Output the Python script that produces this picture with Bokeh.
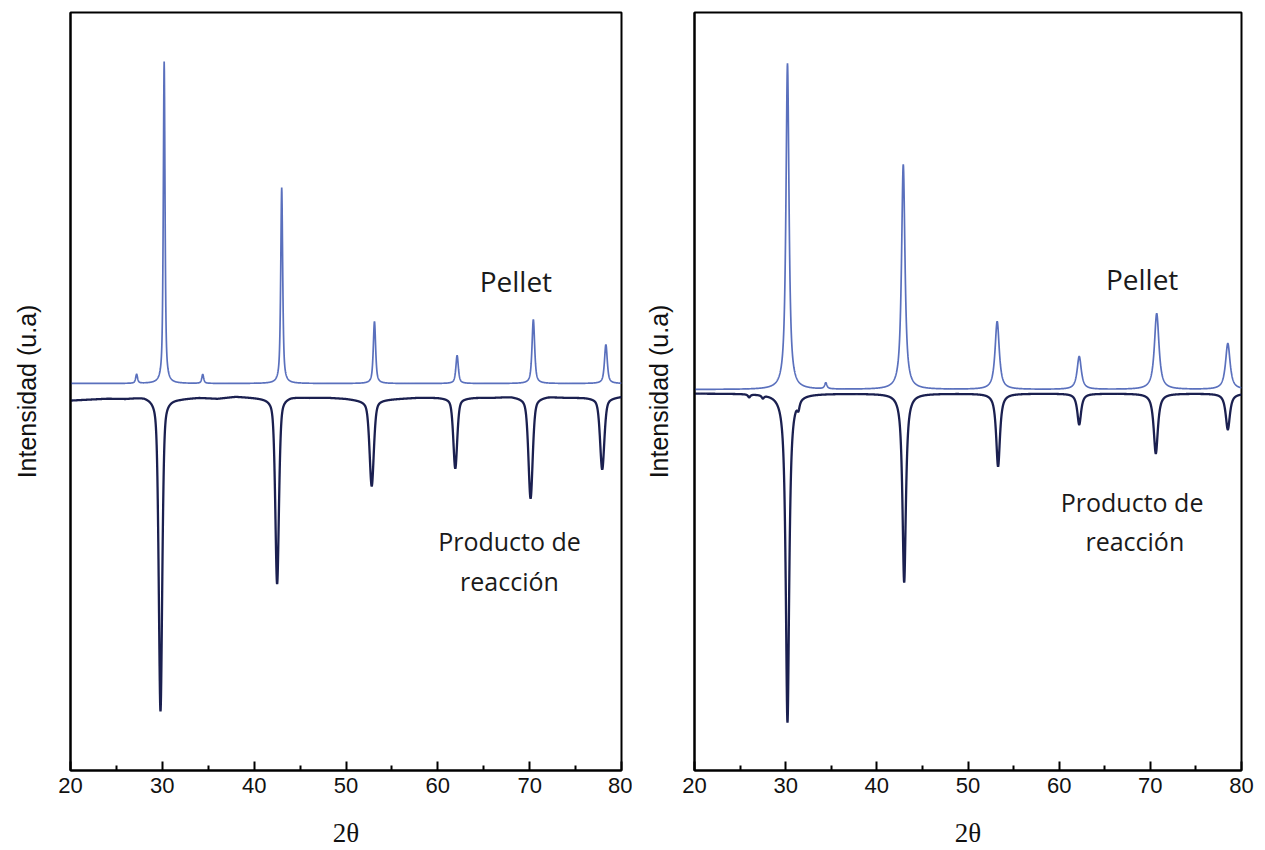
import numpy as np
from bokeh.plotting import figure
from bokeh.layouts import row
from bokeh.models import Range1d, FixedTicker, Label
from bokeh.embed import file_html
from bokeh.resources import INLINE

# ---------------- data ----------------
# 2-theta axis ticks
x_ticks = [20, 30, 40, 50, 60, 70, 80]
x_minor = [25, 35, 45, 55, 65, 75]

# Left panel – Pellet (upward peaks)
L_pel_offset = 387
L_pel_pos = [27.2, 30.2, 34.4, 43.0, 53.1, 62.1, 70.4, 78.3]
L_pel_h = [9, 322, 9, 196, 62, 28, 64, 39]
L_pel_fwhm = [0.25, 0.22, 0.25, 0.25, 0.3, 0.32, 0.34, 0.36]

# Left panel – Producto de reacción (downward peaks)
L_pro_offset = 372
L_pro_pos = [29.8, 42.5, 52.8, 61.9, 70.1, 77.9]
L_pro_depth = [313, 186, 86, 70, 100, 71]
L_pro_fwhm = [0.45, 0.47, 0.55, 0.5, 0.55, 0.55]
L_pro_base_x = [20, 22, 24, 26, 28, 30, 32, 34, 36, 38, 40, 42, 44, 46, 48, 50,
                52, 54, 56, 58, 60, 62, 64, 66, 68, 70, 72, 74, 76, 78, 80]
L_pro_base_y = [-2, -1, 0, 0, 2, 0, 0, 1, 0, 2, 1, 0, 2, 1, 1, 0,
                -2, -1, 0, 1, 1, 0, 1, 1, 2, 0, 2, 1, 1, 0, 2]

# Right panel – Pellet
R_pel_offset = 381
R_pel_pos = [30.2, 34.4, 42.9, 53.2, 62.2, 70.7, 78.5]
R_pel_h = [326, 6, 225, 68, 33, 76, 46]
R_pel_fwhm = [0.4, 0.3, 0.45, 0.55, 0.55, 0.6, 0.6]

# Right panel – Producto de reacción
R_pro_offset = 377
R_pro_pos = [26.0, 27.5, 30.2, 31.4, 43.0, 53.3, 62.2, 70.6, 78.5]
R_pro_depth = [3, 3, 329, 8, 189, 73, 31, 60, 36]
R_pro_fwhm = [0.3, 0.3, 0.45, 0.3, 0.45, 0.5, 0.5, 0.55, 0.55]

PEL_COLOR = "#5a70bd"
PRO_COLOR = "#1b2050"


def profile(x, pos, amp, fwhm, eta):
    y = np.zeros_like(x)
    for p, a, w in zip(pos, amp, fwhm):
        d = (x - p) / w
        lor = 1.0 / (1.0 + 4.0 * d * d)
        gau = np.exp(-4.0 * np.log(2.0) * d * d)
        y += a * (eta * lor + (1 - eta) * gau)
    return y


xs = np.arange(20.0, 80.0001, 0.02)


def make_panel(width, left_border, right_border, label_standoff, pel, pro, texts):
    p = figure(width=width, height=850, x_range=Range1d(20, 80), y_range=Range1d(0, 758),
               output_backend="svg", toolbar_location=None,
               min_border_left=left_border, min_border_right=right_border,
               min_border_top=12, min_border_bottom=80)
    p.grid.visible = False
    p.outline_line_color = "black"
    p.outline_line_width = 2
    p.background_fill_color = "white"
    p.border_fill_color = "white"

    # curves
    p.line(pro[0], pro[1], line_color=PRO_COLOR, line_width=2.3)
    p.line(pel[0], pel[1], line_color=PEL_COLOR, line_width=1.7)

    # x axis
    xa = p.xaxis[0]
    xa.ticker = FixedTicker(ticks=x_ticks, minor_ticks=x_minor)
    xa.major_tick_in = 9
    xa.major_tick_out = 0
    xa.minor_tick_in = 5
    xa.minor_tick_out = 0
    xa.major_tick_line_width = 2
    xa.minor_tick_line_width = 2
    xa.axis_line_width = 2
    xa.major_label_text_font = "Liberation Sans"
    xa.major_label_text_font_size = "22px"
    xa.major_label_text_color = "#111111"
    xa.major_label_standoff = 7
    xa.axis_label = "2θ"
    xa.axis_label_text_font = "Liberation Serif"
    xa.axis_label_text_font_style = "normal"
    xa.axis_label_text_font_size = "27px"
    xa.axis_label_text_color = "#111111"
    xa.axis_label_standoff = 22

    # y axis
    ya = p.yaxis[0]
    ya.ticker = FixedTicker(ticks=[])
    ya.major_tick_out = 0
    ya.major_tick_in = 0
    ya.minor_tick_out = 0
    ya.minor_tick_in = 0
    ya.major_label_standoff = 0
    ya.axis_line_width = 2
    ya.axis_label = "Intensidad (u.a)"
    ya.axis_label_text_font = "Liberation Sans"
    ya.axis_label_text_font_style = "normal"
    ya.axis_label_text_font_size = "25px"
    ya.axis_label_text_color = "#111111"
    ya.axis_label_standoff = label_standoff

    for (tx, ty, t, fs) in texts:
        p.add_layout(Label(x=tx, y=ty, text=t, text_font="Open Sans", text_font_size=fs,
                           text_align="center", text_baseline="middle", text_color="#1a1a1a"))
    return p


L_pel = L_pel_offset + profile(xs, L_pel_pos, L_pel_h, L_pel_fwhm, 0.7)
L_pro = L_pro_offset + np.interp(xs, L_pro_base_x, L_pro_base_y) - profile(xs, L_pro_pos, L_pro_depth, L_pro_fwhm, 0.45)
R_pel = R_pel_offset + profile(xs, R_pel_pos, R_pel_h, R_pel_fwhm, 0.9)
R_pro = R_pro_offset - profile(xs, R_pro_pos, R_pro_depth, R_pro_fwhm, 0.9)

p1 = make_panel(632, 70, 11, 30, (xs, L_pel), (xs, L_pro),
                [(68.5, 490, "Pellet", "28px"), (67.8, 230, "Producto de", "25px"),
                 (67.8, 190, "reacción", "25px")])
p2 = make_panel(633, 62, 24, 22, (xs, R_pel), (xs, R_pro),
                [(69.1, 492, "Pellet", "28px"), (68.0, 269, "Producto de", "25px"),
                 (68.3, 230, "reacción", "25px")])

layout = row(p1, p2)
open("out.html", "w").write(file_html(layout, INLINE))
